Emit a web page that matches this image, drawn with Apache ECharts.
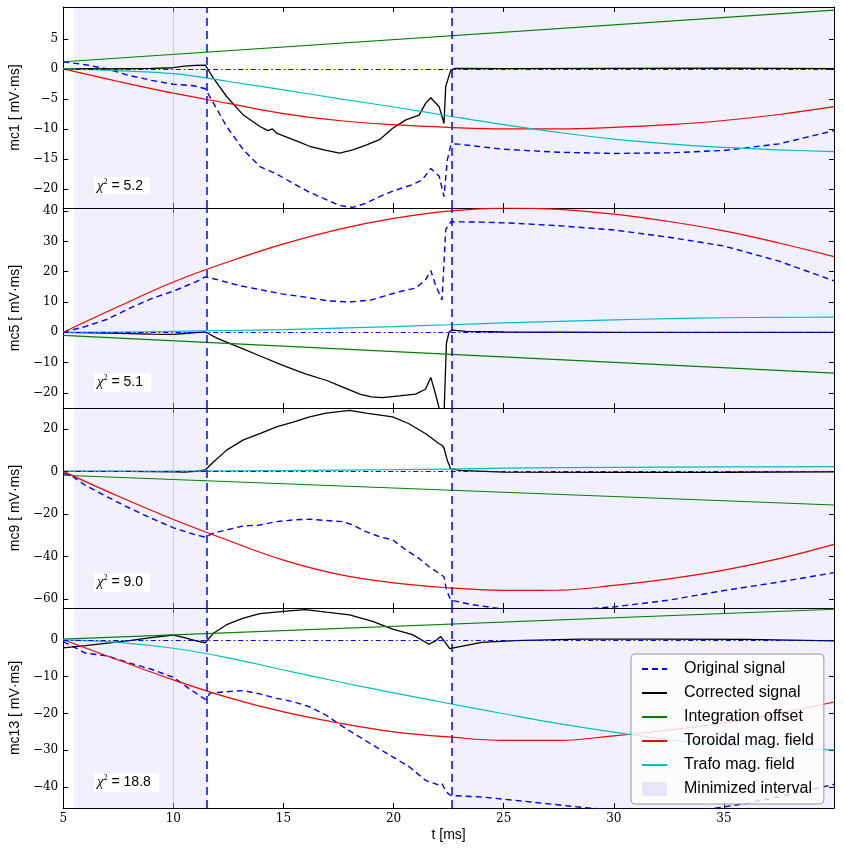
<!DOCTYPE html>
<html><head><meta charset="utf-8">
<script src="https://cdn.jsdelivr.net/npm/echarts@6/dist/echarts.min.js"></script>
<style>html,body{margin:0;padding:0;background:#fff}#c{width:844px;height:853px}</style>
</head><body><div id="c"></div><script>
// ---------- data ----------
const xTicks = [5, 10, 15, 20, 25, 30, 35];
const yNames = ['mc1 [ mV\u00b7ms]', 'mc5 [ mV\u00b7ms]', 'mc9 [ mV\u00b7ms]', 'mc13 [ mV\u00b7ms]'];
const yMin = [-23.2, -25, -64.2, -45.7];
const yMax = [10.33, 41.05, 29.8, 8.64];
const yTicks1 = [-20, -15, -10, -5, 0, 5];
const yTicks2 = [-20, -10, 0, 10, 20, 30, 40];
const yTicks3 = [-60, -40, -20, 0, 20];
const yTicks4 = [-40, -30, -20, -10, 0];
const chiLabels = ['5.2', '5.1', '9.0', '18.8'];
const minimizedIntervals = [[5.5, 11.5], [22.65, 40]];
const boundaryLines = [11.5, 22.65];
const greyLine = 10;

// smooth fitted curves sampled on a common time grid
const tSmooth = [5, 7.5, 10, 12.5, 15, 17.5, 20, 22.5, 25, 27.5, 30, 32.5, 35, 37.5, 40];
const tLine = [5, 40];

// panel mc1
const p1Toroidal = [0, -2.1, -4.05, -5.75, -7.45, -8.6, -9.3, -9.75, -10.0, -10.0, -9.75, -9.3, -8.6, -7.6, -6.3];
const p1Trafo = [0, -0.3, -0.8, -2.1, -3.5, -4.95, -6.35, -7.85, -9.3, -10.6, -11.7, -12.5, -13.1, -13.5, -13.8];
const p1Offset = [1.2, 9.8];
const p1CorrT = [5, 6, 7, 8, 9, 10, 10.5, 11, 11.45, 11.82, 12.42, 13.18, 13.93, 14.3, 14.5, 14.68, 15.44, 16.19, 16.94, 17.55, 18.15, 18.75, 19.36, 19.96, 20.56, 21.16, 21.46, 21.69, 22.07, 22.29, 22.37, 22.6, 22.8, 25, 30, 35, 40];
const p1Corr = [0, 0.05, 0, 0.05, 0.1, 0.2, 0.45, 0.6, 0.65, -1.55, -4.6, -7.7, -9.6, -10.3, -10.0, -10.7, -11.8, -12.9, -13.6, -14.05, -13.5, -12.7, -11.8, -9.9, -8.5, -7.7, -5.7, -4.8, -6.3, -9.1, -2.9, -0.2, 0.1, 0.05, 0.1, 0.15, 0.05];
const p1OrigT = [5, 6, 7, 8, 9, 10, 10.92, 11.45, 11.82, 12.42, 13.18, 13.93, 14.68, 15.44, 16.19, 16.94, 17.55, 18.15, 18.75, 19.36, 19.96, 20.86, 21.3, 21.69, 22.07, 22.29, 22.44, 22.6, 22.8, 25, 27.5, 30, 32.5, 35, 37.5, 40];
const p1Orig = [1.2, 0.7, 0.0, -1.1, -1.9, -2.55, -2.8, -3.3, -5.7, -9.6, -13.5, -16.3, -17.5, -19.1, -20.6, -21.8, -22.8, -23.1, -22.4, -21.3, -20.4, -19.3, -18.5, -16.6, -17.9, -21.3, -15.2, -12.7, -12.5, -13.4, -13.9, -14.1, -14.0, -13.6, -12.5, -10.3];

// panel mc5
const p2Toroidal = [0, 8.5, 16.6, 23.3, 29.2, 34, 37.6, 40, 41, 40.6, 39, 36.6, 33.5, 29.5, 25];
const p2Trafo = [0, 0.1, 0.3, 0.6, 0.9, 1.4, 1.9, 2.5, 3.1, 3.6, 4.1, 4.5, 4.8, 4.95, 5.0];
const p2Offset = [-1, -13.5];
const p2CorrT = [5, 7, 9, 10, 10.5, 11, 11.45, 12, 13, 14, 15, 16, 17, 17.5, 18, 18.5, 19, 19.5, 20.26, 21, 21.45, 21.69, 21.9, 22.08, 22.3, 22.4, 22.52, 22.67, 23.3, 25, 30, 35, 40];
const p2Corr = [0, -0.3, -0.6, -0.7, -0.4, -0.1, 0.1, -2, -5, -8, -11, -13.7, -16, -17.5, -19, -20.5, -21.3, -21.6, -21, -20.4, -18.8, -14.9, -20.3, -25.3, -25.3, -3.7, 0.1, 0.7, 0.3, 0.1, 0, 0, 0];
const p2OrigT = [5, 6, 7, 8, 9, 10, 11, 11.45, 12, 12.5, 13, 14, 15, 16, 17, 18, 19, 19.5, 20.26, 21, 21.45, 21.69, 21.9, 22.2, 22.37, 22.6, 24, 25.5, 27.5, 30, 32.5, 35, 37.5, 40];
const p2Orig = [0, 1.9, 4.3, 7.9, 11.1, 13.6, 16.6, 18.3, 17.4, 16.4, 15.4, 14, 12.6, 11.6, 10.4, 10, 10.7, 11.8, 13.4, 14.6, 17.3, 20.4, 15.7, 10.7, 34, 36.5, 36.4, 36, 35.2, 33.8, 31.4, 28.5, 23.5, 17];

// panel mc9
const p3Toroidal = [0, -11.7, -22.6, -32.5, -41.7, -48.4, -52.4, -54.7, -55.9, -55.8, -53.6, -50.5, -46.4, -41, -34.3];
const p3TrafoT = [5, 10, 15, 20, 22.5, 25, 30, 35, 40];
const p3Trafo = [0, 0.1, 0.4, 0.8, 1.1, 1.5, 1.9, 2.1, 2.2];
const p3Offset = [-1.8, -15.8];
const p3CorrT = [5, 8, 10, 10.5, 11, 11.45, 11.82, 12.42, 13.18, 13.93, 14.68, 15.44, 16.19, 16.94, 18, 18.75, 19.96, 20.7, 21.46, 22.07, 22.2, 22.29, 22.44, 22.59, 23, 25, 30, 35, 40];
const p3Corr = [0, 0, -0.2, -0.3, 0, 0.7, 4.4, 10, 14.8, 17.8, 20.9, 23.2, 25.6, 27.4, 28.7, 27.4, 25.6, 22.4, 17.7, 13, 12.3, 11, 5.2, 1.3, 0.5, -0.3, -0.5, -0.4, -0.2];
const p3OrigT = [5, 5.3, 6, 7, 8, 9, 10, 11, 11.45, 11.82, 12.42, 13.18, 13.93, 14.68, 15.44, 16.19, 16.94, 17.7, 18.15, 18.75, 19.36, 19.96, 20.56, 21.16, 21.61, 22.07, 22.29, 22.4, 22.6, 23.5, 25, 27.5, 30, 32.5, 35, 37.5, 40];
const p3Orig = [-1, -1.5, -6.5, -12, -17.2, -22, -26.5, -29.8, -30.9, -29, -27.5, -25.6, -25.2, -23.6, -22.8, -22.5, -23.1, -23.6, -25.2, -28.3, -30.7, -32.2, -36.9, -40.9, -44.8, -47.9, -49.5, -55.8, -60.5, -62.5, -64.8, -65.5, -63.7, -60.5, -56, -52, -47.6];

// panel mc13
const p4Toroidal = [0, -5.5, -10.9, -15.7, -19.6, -22.6, -25, -26.4, -27.3, -27.3, -26.1, -24.5, -22.6, -20, -16.9];
const p4Trafo = [0, -0.7, -2.3, -4.9, -8.2, -11.4, -14.4, -17.3, -20.1, -22.8, -25.1, -27.1, -28.5, -29.4, -29.9];
const p4Offset = [0.2, 8.3];
const p4CorrT = [5, 6, 7, 8, 9, 10, 10.5, 11, 11.45, 11.82, 12.42, 13.18, 13.93, 15, 16, 16.94, 18, 19.05, 19.96, 20.86, 21.61, 21.9, 22.14, 22.37, 22.55, 24, 25.5, 28.5, 32, 36, 40];
const p4Corr = [-2.2, -1.6, -0.9, -0.2, 0.6, 1.3, 0.6, -0.2, -0.8, 1.8, 4.1, 5.9, 7.1, 7.7, 8.2, 7.5, 6.8, 5, 2.9, 1.4, -1.2, -0.3, 0.9, -0.9, -2.4, -0.7, -0.2, 0.2, 0.2, 0.1, -0.3];
const p4OrigT = [5, 5.5, 6, 7, 8, 9, 10, 10.7, 11.45, 11.67, 12.42, 13.18, 13.93, 14.68, 15.44, 16.19, 16.94, 17.7, 18.45, 19.2, 19.96, 20.71, 21.46, 22.07, 22.2, 22.4, 22.6, 24, 25.5, 28.5, 30, 32, 34, 36, 38, 40];
const p4Orig = [-0.5, -2, -3.6, -4.4, -6.3, -8, -10.2, -13.2, -16.2, -14.5, -14.1, -13.8, -14.7, -15.9, -16.8, -18.2, -20.5, -23.6, -26.4, -29.1, -31.8, -34.5, -38.2, -39.5, -39.1, -41.4, -42.3, -42.7, -43.6, -45.5, -46.3, -46.8, -46.3, -44.5, -42, -39.3];

// ---------- build ----------
const zip = (t, v) => t.map((x, i) => [x, v[i]]);
const yTicks = [yTicks1, yTicks2, yTicks3, yTicks4];
const panels = [
  {orig: zip(p1OrigT, p1Orig), corr: zip(p1CorrT, p1Corr), off: zip(tLine, p1Offset), tor: zip(tSmooth, p1Toroidal), tra: zip(tSmooth, p1Trafo)},
  {orig: zip(p2OrigT, p2Orig), corr: zip(p2CorrT, p2Corr), off: zip(tLine, p2Offset), tor: zip(tSmooth, p2Toroidal), tra: zip(tSmooth, p2Trafo)},
  {orig: zip(p3OrigT, p3Orig), corr: zip(p3CorrT, p3Corr), off: zip(tLine, p3Offset), tor: zip(tSmooth, p3Toroidal), tra: zip(p3TrafoT, p3Trafo)},
  {orig: zip(p4OrigT, p4Orig), corr: zip(p4CorrT, p4Corr), off: zip(tLine, p4Offset), tor: zip(tSmooth, p4Toroidal), tra: zip(tSmooth, p4Trafo)}
];

const tops = [7, 208, 408, 608];
const heights = [201, 200, 200, 200];
const chiBoxes = [[94, 177, 56, 17], [94, 373, 57, 19], [94, 573, 56, 19], [94, 773, 65, 19]];
const fmt = v => (v < 0 ? '\u2212' + (-v) : String(v));
const tickFont = {fontFamily: 'DejaVu Serif', fontSize: 12, color: '#000'};
const labelFont = {fontFamily: 'Liberation Sans', fontSize: 14, color: '#000'};
const bandColor = 'rgba(0,0,230,0.06)';
const patchColor = 'rgb(230,230,248)';

const grid = [], xAxis = [], yAxis = [], series = [], graphic = [];
for (let i = 0; i < 4; i++) {
  grid.push({left: 59, right: 10, top: tops[i], height: heights[i]});
  const axLine = {show: true, onZero: false, lineStyle: {color: '#000', width: 1}};
  const xt = {show: true, inside: true, length: 5, lineStyle: {color: '#000'}, customValues: xTicks};
  const yt = {show: true, inside: true, length: 5, lineStyle: {color: '#000'}, customValues: yTicks[i]};
  xAxis.push({type: 'value', gridIndex: i, min: 5, max: 40, position: 'bottom', axisLine: axLine, axisTick: xt,
    splitLine: {show: false},
    axisLabel: Object.assign({show: i === 3, customValues: xTicks, margin: 5}, tickFont),
    name: i === 3 ? 't [ms]' : '', nameLocation: 'middle', nameGap: 20, nameTextStyle: labelFont});
  xAxis.push({type: 'value', gridIndex: i, min: 5, max: 40, position: 'top', axisLine: axLine, axisTick: xt,
    splitLine: {show: false}, axisLabel: {show: false}});
  yAxis.push({type: 'value', gridIndex: i, min: yMin[i], max: yMax[i], position: 'left', axisLine: axLine, axisTick: yt,
    splitLine: {show: false},
    axisLabel: Object.assign({customValues: yTicks[i], formatter: fmt, margin: 5}, tickFont),
    name: yNames[i], nameLocation: 'middle', nameGap: 36, nameRotate: 90, nameTextStyle: labelFont});
  yAxis.push({type: 'value', gridIndex: i, min: yMin[i], max: yMax[i], position: 'right', axisLine: axLine, axisTick: yt,
    splitLine: {show: false}, axisLabel: {show: false}});

  const xi = 2 * i, yi = 2 * i;
  series.push({
    name: 'Minimized interval', type: 'bar', xAxisIndex: xi, yAxisIndex: yi, data: [],
    itemStyle: {color: patchColor}, silent: true,
    markArea: {silent: true, itemStyle: {color: bandColor},
      data: minimizedIntervals.map(r => [{xAxis: r[0]}, {xAxis: r[1]}])},
    markLine: {silent: true, symbol: 'none', label: {show: false}, animation: false,
      data: [
        {xAxis: greyLine, lineStyle: {color: 'rgba(170,170,185,0.5)', width: 1, type: 'solid'}},
        {yAxis: 0, lineStyle: {color: '#0000ff', width: 1.2, type: [5, 3, 1.5, 3]}},
        ...boundaryLines.map(b => ({xAxis: b, lineStyle: {color: '#0000ff', width: 1.5, type: [8, 5]}}))
      ]}
  });
  const common = {type: 'line', xAxisIndex: xi, yAxisIndex: yi, symbol: 'none', showSymbol: false, clip: true, animation: false};
  const p = panels[i];
  series.push(Object.assign({}, common, {name: 'Original signal', data: p.orig, color: '#0000ff', lineStyle: {color: '#0000ff', width: 1.4, type: [6, 4]}}));
  series.push(Object.assign({}, common, {name: 'Corrected signal', data: p.corr, color: '#000', lineStyle: {color: '#000', width: 1.3}}));
  series.push(Object.assign({}, common, {name: 'Integration offset', data: p.off, color: '#008000', lineStyle: {color: '#008000', width: 1.2}}));
  series.push(Object.assign({}, common, {name: 'Toroidal mag. field', data: p.tor, smooth: 0.4, color: '#ff0000', lineStyle: {color: '#ff0000', width: 1.2}}));
  series.push(Object.assign({}, common, {name: 'Trafo mag. field', data: p.tra, smooth: 0.4, color: '#00bfbf', lineStyle: {color: '#00bfbf', width: 1.2}}));

  const b = chiBoxes[i];
  graphic.push({type: 'rect', left: b[0], top: b[1], shape: {width: b[2], height: b[3]}, style: {fill: '#fff'}, z: 50});
  graphic.push({type: 'text', left: b[0] + 3, top: b[1] + 1, z: 51, style: {
    text: '{c|\u03c7}{s|2}{n| = ' + chiLabels[i] + '}',
    rich: {
      c: {fontFamily: 'Liberation Serif', fontStyle: 'italic', fontSize: 15, lineHeight: 16, fill: '#000'},
      s: {fontFamily: 'Liberation Serif', fontSize: 8, lineHeight: 16, verticalAlign: 'top', fill: '#000'},
      n: {fontFamily: 'Liberation Sans', fontSize: 14, lineHeight: 16, fill: '#000'}
    }}});
}

const chart = echarts.init(document.getElementById('c'));
chart.setOption({
  animation: false,
  backgroundColor: '#fff',
  grid, xAxis, yAxis, series, graphic,
  legend: {
    orient: 'vertical', left: 631, top: 654,
    padding: [7, 10, 7, 10], itemGap: 8, itemWidth: 25, itemHeight: 14,
    backgroundColor: 'rgba(255,255,255,0.8)', borderColor: '#999', borderWidth: 1, borderRadius: 4,
    textStyle: {fontFamily: 'Liberation Sans', fontSize: 16, color: '#000', padding: [0, 0, 0, 12]},
    itemStyle: {opacity: 0, borderWidth: 0},
    selectedMode: false,
    data: ['Original signal', 'Corrected signal', 'Integration offset', 'Toroidal mag. field', 'Trafo mag. field',
      {name: 'Minimized interval', icon: 'rect', itemStyle: {color: patchColor, opacity: 1}}]
  }
});
</script></body></html>
